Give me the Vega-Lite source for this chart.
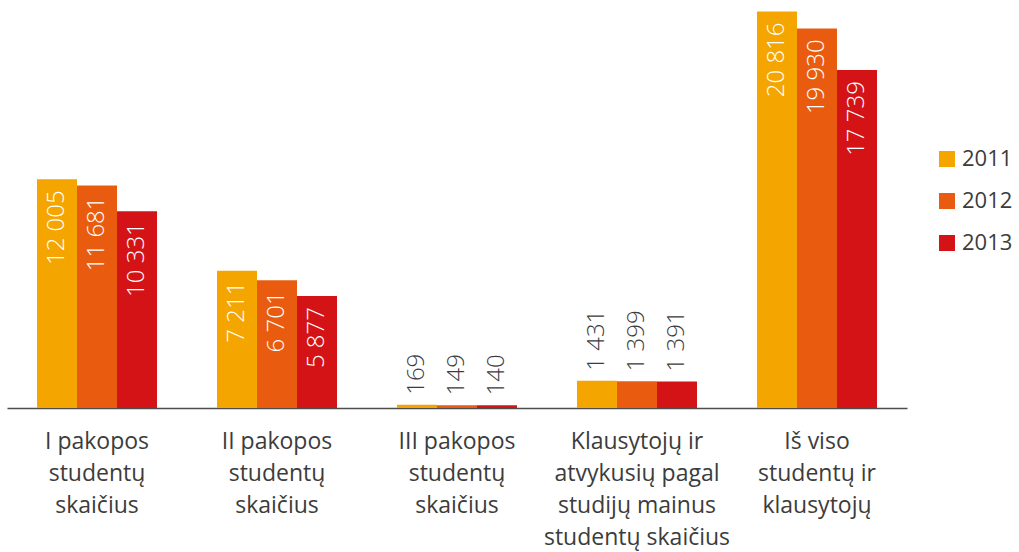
{
  "$schema": "https://vega.github.io/schema/vega-lite/v6.json",
  "autosize": "none",
  "width": 900,
  "height": 400,
  "padding": {"top": 8, "left": 7, "right": 112, "bottom": 144},
  "background": "white",
  "config": {
    "view": {"stroke": null},
    "font": "Open Sans",
    "locale": {"number": {"decimal": ",", "thousands": " ", "grouping": [3], "currency": ["", ""]}}
  },
  "data": {
    "values": [
      {"category": "I pakopos\nstudentų\nskaičius", "year": "2011", "value": 12005},
      {"category": "I pakopos\nstudentų\nskaičius", "year": "2012", "value": 11681},
      {"category": "I pakopos\nstudentų\nskaičius", "year": "2013", "value": 10331},
      {"category": "II pakopos\nstudentų\nskaičius", "year": "2011", "value": 7211},
      {"category": "II pakopos\nstudentų\nskaičius", "year": "2012", "value": 6701},
      {"category": "II pakopos\nstudentų\nskaičius", "year": "2013", "value": 5877},
      {"category": "III pakopos\nstudentų\nskaičius", "year": "2011", "value": 169},
      {"category": "III pakopos\nstudentų\nskaičius", "year": "2012", "value": 149},
      {"category": "III pakopos\nstudentų\nskaičius", "year": "2013", "value": 140},
      {"category": "Klausytojų ir\natvykusių pagal\nstudijų mainus\nstudentų skaičius", "year": "2011", "value": 1431},
      {"category": "Klausytojų ir\natvykusių pagal\nstudijų mainus\nstudentų skaičius", "year": "2012", "value": 1399},
      {"category": "Klausytojų ir\natvykusių pagal\nstudijų mainus\nstudentų skaičius", "year": "2013", "value": 1391},
      {"category": "Iš viso\nstudentų ir\nklausytojų", "year": "2011", "value": 20816},
      {"category": "Iš viso\nstudentų ir\nklausytojų", "year": "2012", "value": 19930},
      {"category": "Iš viso\nstudentų ir\nklausytojų", "year": "2013", "value": 17739}
    ]
  },
  "encoding": {
    "x": {
      "field": "category",
      "type": "nominal",
      "sort": null,
      "scale": {"paddingInner": 0.3333, "paddingOuter": 0.1667},
      "axis": {
        "title": null,
        "labelAngle": 0,
        "labelExpr": "split(datum.label, '\\n')",
        "labelFontSize": 23,
        "labelLineHeight": 32,
        "labelColor": "#3c3c3c",
        "labelPadding": 22,
        "labelBaseline": "top",
        "ticks": false,
        "domainColor": "#4d4d4d",
        "domainWidth": 1.5,
        "labelLimit": 0
      }
    },
    "xOffset": {"field": "year", "type": "nominal"},
    "y": {
      "field": "value",
      "type": "quantitative",
      "scale": {"domain": [0, 21000], "nice": false},
      "axis": null
    }
  },
  "layer": [
    {
      "mark": {"type": "bar"},
      "encoding": {
        "color": {
          "field": "year",
          "type": "nominal",
          "scale": {"domain": ["2011", "2012", "2013"], "range": ["#F5A500", "#E95C0F", "#D41317"]},
          "legend": {
            "title": null,
            "orient": "none",
            "legendX": 929,
            "legendY": 140,
            "padding": 0,
            "symbolType": "square",
            "symbolSize": 256,
            "symbolStrokeWidth": 0,
            "labelFontSize": 22,
            "labelColor": "#3c3c3c",
            "labelOffset": 4,
            "rowPadding": 20
          }
        }
      }
    },
    {
      "transform": [{"filter": "datum.value > 5000"}],
      "mark": {"type": "text", "angle": 270, "align": "right", "baseline": "middle", "dx": -11, "fontSize": 24, "fontWeight": 300, "color": "white"},
      "encoding": {"text": {"field": "value", "type": "quantitative", "format": ",d"}}
    },
    {
      "transform": [{"filter": "datum.value <= 5000"}],
      "mark": {"type": "text", "angle": 270, "align": "left", "baseline": "middle", "dx": 10, "fontSize": 24, "fontWeight": 300, "color": "#3c3c3c"},
      "encoding": {"text": {"field": "value", "type": "quantitative", "format": ",d"}}
    }
  ]
}
